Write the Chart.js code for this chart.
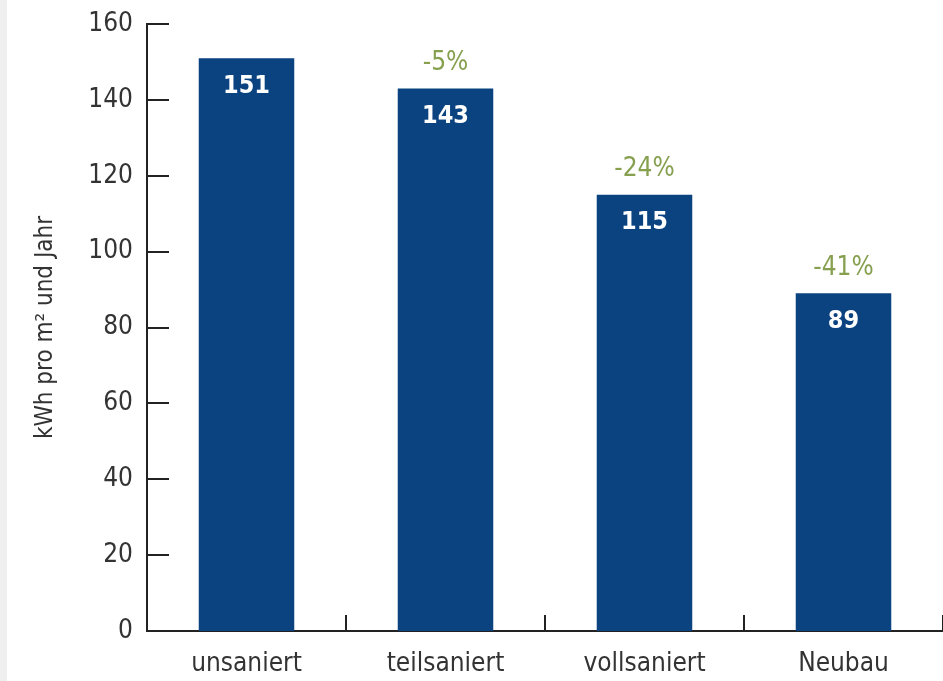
<!DOCTYPE html>
<html>
<head>
<meta charset="utf-8">
<script src="https://cdn.jsdelivr.net/npm/chart.js@4/dist/chart.umd.min.js"></script>
<style>
  html, body { margin: 0; padding: 0; background: #ffffff; }
  #wrap { position: relative; width: 943px; height: 681px; }
</style>
</head>
<body>
<div id="wrap"><canvas id="c" width="943" height="681"></canvas></div>
<script>
const categories = ['unsaniert', 'teilsaniert', 'vollsaniert', 'Neubau'];
const values = [151, 143, 115, 89];
const changeLabels = ['', '-5%', '-24%', '-41%'];
const yAxisTitle = 'kWh pro m\u00B2 und Jahr';
const yMin = 0, yMax = 160, yStep = 20;

const FONT = "'Liberation Sans Narrow', 'DejaVu Sans Condensed', 'Roboto', sans-serif";
const BAR = '#0b4280';
const GREEN = '#86a050';
const TEXT = '#333333';
const AXIS = '#222222';

const bgPlugin = {
  id: 'bg',
  beforeDraw(chart) {
    const ctx = chart.ctx;
    ctx.save();
    ctx.fillStyle = '#ffffff';
    ctx.fillRect(0, 0, chart.width, chart.height);
    ctx.fillStyle = '#efefef';
    ctx.fillRect(0, 0, 7, chart.height);
    ctx.restore();
  }
};

const tickPlugin = {
  id: 'innerTicks',
  afterDraw(chart) {
    const ctx = chart.ctx;
    const ys = chart.scales.y, xs = chart.scales.x;
    const area = chart.chartArea;
    ctx.save();
    ctx.strokeStyle = AXIS;
    ctx.lineWidth = 2;
    ys.ticks.forEach(t => {
      const py = Math.round(ys.getPixelForValue(t.value));
      ctx.beginPath();
      ctx.moveTo(area.left, py);
      ctx.lineTo(area.left + 22, py);
      ctx.stroke();
    });
    const half = (xs.getPixelForValue(1) - xs.getPixelForValue(0)) / 2;
    for (let i = 0; i < categories.length; i++) {
      const px = Math.round(xs.getPixelForValue(i) + half);
      ctx.beginPath();
      ctx.moveTo(px, area.bottom);
      ctx.lineTo(px, area.bottom - 16);
      ctx.stroke();
    }
    ctx.restore();
  }
};

const labelPlugin = {
  id: 'barLabels',
  afterDatasetsDraw(chart) {
    const ctx = chart.ctx;
    const meta = chart.getDatasetMeta(0);
    ctx.save();
    ctx.textAlign = 'center';
    ctx.textBaseline = 'middle';
    meta.data.forEach((bar, i) => {
      ctx.fillStyle = '#ffffff';
      ctx.font = 'bold 25px ' + FONT;
      ctx.fillText(String(values[i]), bar.x, bar.y + 28);
      if (changeLabels[i]) {
        ctx.fillStyle = GREEN;
        ctx.font = '26px ' + FONT;
        ctx.fillText(changeLabels[i], bar.x, bar.y - 25);
      }
    });
    ctx.restore();
  }
};

new Chart(document.getElementById('c'), {
  type: 'bar',
  data: {
    labels: categories,
    datasets: [{
      data: values,
      backgroundColor: BAR,
      borderWidth: 0,
      categoryPercentage: 1.0,
      barPercentage: 0.48
    }]
  },
  options: {
    responsive: false,
    animation: false,
    devicePixelRatio: 1,
    layout: { padding: { top: 24, right: 0, bottom: 0, left: 0 } },
    plugins: {
      legend: { display: false },
      tooltip: { enabled: false }
    },
    scales: {
      x: {
        grid: { display: false, drawTicks: false },
        border: { display: true, color: AXIS, width: 2 },
        ticks: {
          color: TEXT,
          font: { family: FONT, size: 26 },
          padding: 18
        },
        afterFit(scale) { scale.height = 50; scale.paddingLeft = 0; scale.paddingRight = 0; }
      },
      y: {
        min: yMin,
        max: yMax,
        grid: { display: false, drawTicks: false },
        border: { display: true, color: AXIS, width: 2 },
        ticks: {
          stepSize: yStep,
          color: TEXT,
          font: { family: FONT, size: 26 },
          padding: 14
        },
        title: {
          display: true,
          text: yAxisTitle,
          color: TEXT,
          font: { family: FONT, size: 24 },
          padding: { top: 31, bottom: 0 }
        },
        afterFit(scale) { scale.width = 147; scale.paddingTop = 0; scale.paddingBottom = 0; }
      }
    }
  },
  plugins: [bgPlugin, tickPlugin, labelPlugin]
});
</script>
</body>
</html>
